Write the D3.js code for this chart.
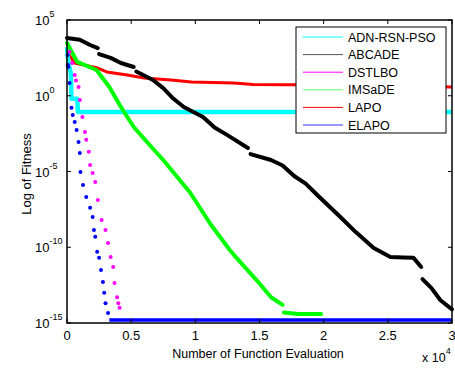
<!DOCTYPE html>
<html>
<head>
<meta charset="utf-8">
<script src="https://cdn.jsdelivr.net/npm/d3@7"></script>
<style>
  body { margin: 0; background: #fff; }
  text { font-family: "Liberation Sans", Arial, sans-serif; }
</style>
</head>
<body>
<script>
// x values in units of 1e4 evaluations, y values are log10(fitness)
const seriesNames = ['ADN-RSN-PSO', 'ABCADE', 'DSTLBO', 'IMSaDE', 'LAPO', 'ELAPO'];
const seriesColors = ['#00ffff', '#000000', '#ff00ff', '#00ff00', '#ff0000', '#0000ff'];
const legendColors = ['#00ffff', '#555555', '#ff00ff', '#66ff66', '#ff0000', '#3333ff'];

const adnX = [0, 0.01, 0.03, 0.035, 0.04, 0.08, 0.085, 3.0];
const adnY = [3.2, 2.2, 1.5, -0.2, -0.2, -0.2, -1.07, -1.07];

// null marks a break in the plotted markers
const abcX = [0, 0.1, 0.18, 0.24, null, 0.25, 0.34, 0.42, 0.52, null, 0.54, 0.67, 0.75, 0.83, 0.91, 1.06, 1.15, 1.25, 1.41, null, 1.43, 1.59, 1.68, 1.77, 1.86, 1.95, 2.13, 2.25, 2.39, 2.52, 2.62, 2.7, 2.76, null, 2.77, 2.84, 2.91, 3.0];
const abcY = [3.81, 3.7, 3.35, 3.15, null, 2.75, 2.5, 2.16, 1.9, null, 1.6, 1.04, 0.5, -0.2, -0.74, -1.4, -2.1, -2.6, -3.45, null, -3.85, -4.24, -4.6, -5.3, -5.8, -6.55, -8.0, -9.0, -10.05, -10.64, -10.68, -10.7, -11.3, null, -12.1, -12.7, -13.5, -14.1];

const dstX = [0.02, 0.04, 0.06, 0.07, 0.09, 0.1, 0.12, 0.14, 0.15, 0.17, 0.18, 0.2, 0.22, 0.24, 0.27, 0.3, 0.32, 0.34, 0.36, 0.37, 0.39, 0.4, 0.41];
const dstY = [2.9, 2.16, 1.37, 1.0, 0.58, -0.28, -1.4, -2.39, -2.9, -3.7, -4.57, -5.1, -5.7, -6.88, -8.2, -8.86, -9.72, -10.64, -11.3, -12.36, -13.3, -13.7, -14.0];

const imsX = [0, 0.08, 0.23, 0.33, 0.42, 0.52, 0.67, 0.75, 0.96, 1.12, 1.27, 1.3, 1.48, 1.59, 1.68, null, 1.69, 1.8, 1.98];
const imsY = [3.48, 2.23, 1.7, 0.58, -0.74, -2.06, -3.5, -4.24, -6.4, -8.5, -10.2, -10.5, -12.2, -13.3, -13.8, null, -14.3, -14.4, -14.4];

const lapoX = [0, 0.06, 0.23, 0.31, 0.47, 0.6, 0.81, 0.97, 1.3, 1.45, 2.0, 2.5, 3.0];
const lapoY = [2.9, 2.16, 1.85, 1.57, 1.37, 1.17, 1.04, 0.9, 0.84, 0.75, 0.71, 0.65, 0.58];

const elapoX = [0.005, 0.007, 0.01, 0.02, 0.035, 0.045, 0.06, 0.075, 0.09, 0.1, 0.105, 0.125, 0.15, 0.18, 0.2, 0.21, 0.22, 0.235, 0.25, 0.265, 0.28, 0.29, 0.3, 0.32];
const elapoY = [2.69, 2.03, 1.9, 0.84, -0.8, -1.27, -1.73, -2.26, -3.05, -3.78, -5.03, -5.89, -6.68, -7.4, -8.0, -8.86, -9.3, -10.3, -10.7, -11.5, -12.3, -13.0, -13.7, -14.34];
const elapoFlatX = [0.33, 3.0];
const elapoFlatY = [-14.8, -14.8];

const xTicks = [0, 0.5, 1, 1.5, 2, 2.5, 3];
const xTickLabels = ['0', '0.5', '1', '1.5', '2', '2.5', '3'];
const yTicks = [5, 0, -5, -10, -15];
const yTickExps = ['5', '0', '-5', '-10', '-15'];

const W = 455, H = 372;
const pLeft = 67, pRight = 452, pTop = 20, pBottom = 323;

const svg = d3.select('body').append('svg')
    .attr('width', W).attr('height', H);

const x = d3.scaleLinear().domain([0, 3]).range([pLeft, pRight]);
const y = d3.scaleLinear().domain([-15, 5]).range([pBottom, pTop]);

function pts(xs, ys) {
    return xs.map((v, i) => [v, ys[i]]);
}

const line = d3.line()
    .defined(d => d[0] !== null)
    .x(d => x(d[0])).y(d => y(d[1]));

const plot = svg.append('g');

// LAPO
plot.append('path').datum(pts(lapoX, lapoY))
    .attr('d', line).attr('fill', 'none')
    .attr('stroke', seriesColors[4]).attr('stroke-width', 3)
    .attr('stroke-linejoin', 'round');

// ADN-RSN-PSO
plot.append('path').datum(pts(adnX, adnY))
    .attr('d', line).attr('fill', 'none')
    .attr('stroke', seriesColors[0]).attr('stroke-width', 4.5)
    .attr('stroke-linejoin', 'round');

// IMSaDE
plot.append('path').datum(pts(imsX, imsY))
    .attr('d', line).attr('fill', 'none')
    .attr('stroke', seriesColors[3]).attr('stroke-width', 4)
    .attr('stroke-linecap', 'round').attr('stroke-linejoin', 'round');

// ABCADE
plot.append('path').datum(pts(abcX, abcY))
    .attr('d', line).attr('fill', 'none')
    .attr('stroke', seriesColors[1]).attr('stroke-width', 4)
    .attr('stroke-linecap', 'round').attr('stroke-linejoin', 'round');

// DSTLBO dots
plot.selectAll('.dst').data(pts(dstX, dstY)).enter()
    .append('circle').attr('class', 'dst')
    .attr('cx', d => x(d[0])).attr('cy', d => y(d[1]))
    .attr('r', 2).attr('fill', seriesColors[2]);

// ELAPO dots + flat tail
plot.selectAll('.ela').data(pts(elapoX, elapoY)).enter()
    .append('circle').attr('class', 'ela')
    .attr('cx', d => x(d[0])).attr('cy', d => y(d[1]))
    .attr('r', 2).attr('fill', seriesColors[5]);
plot.append('path').datum(pts(elapoFlatX, elapoFlatY))
    .attr('d', line).attr('fill', 'none')
    .attr('stroke', seriesColors[5]).attr('stroke-width', 3.5);

// axes box with inward ticks on all sides
const ax = svg.append('g').attr('stroke', '#000').attr('stroke-width', 1);
ax.append('rect').attr('x', pLeft).attr('y', pTop)
    .attr('width', pRight - pLeft).attr('height', pBottom - pTop)
    .attr('fill', 'none').attr('stroke-width', 1.5);

xTicks.forEach(t => {
    ax.append('line').attr('x1', x(t)).attr('x2', x(t)).attr('y1', pBottom).attr('y2', pBottom - 4);
    ax.append('line').attr('x1', x(t)).attr('x2', x(t)).attr('y1', pTop).attr('y2', pTop + 4);
});
yTicks.forEach(t => {
    ax.append('line').attr('x1', pLeft).attr('x2', pLeft + 4).attr('y1', y(t)).attr('y2', y(t));
    ax.append('line').attr('x1', pRight).attr('x2', pRight - 4).attr('y1', y(t)).attr('y2', y(t));
});

// tick labels
svg.selectAll('.xt').data(xTicks).enter()
    .append('text').attr('class', 'xt')
    .attr('x', d => x(d)).attr('y', pBottom + 17)
    .attr('text-anchor', 'middle').attr('font-size', 13)
    .text((d, i) => xTickLabels[i]);

yTicks.forEach((t, i) => {
    const tx = svg.append('text')
        .attr('x', 35).attr('y', y(t) + 5)
        .attr('font-size', 13);
    tx.append('tspan').text('10');
    tx.append('tspan').attr('dy', -8).attr('font-size', 9).text(yTickExps[i]);
});

// axis titles
svg.append('text')
    .attr('x', 258).attr('y', 358)
    .attr('text-anchor', 'middle').attr('font-size', 12.5)
    .text('Number of Function Evaluation');

svg.append('text')
    .attr('transform', 'translate(31, 174) rotate(-90)')
    .attr('text-anchor', 'middle').attr('font-size', 13)
    .text('Log of Fitness');

const mult = svg.append('text')
    .attr('x', 422).attr('y', 362).attr('font-size', 12.5);
mult.append('tspan').text('x 10');
mult.append('tspan').attr('dy', -8).attr('font-size', 9).text('4');

// legend
const lg = svg.append('g');
lg.append('rect').attr('x', 296).attr('y', 27)
    .attr('width', 150).attr('height', 106)
    .attr('fill', '#fff').attr('stroke', '#000').attr('stroke-width', 1);

const rowY = d3.scalePoint().domain(seriesNames).range([37, 125]);

seriesNames.forEach((name, i) => {
    lg.append('line')
        .attr('x1', 303).attr('x2', 343)
        .attr('y1', rowY(name)).attr('y2', rowY(name))
        .attr('stroke', legendColors[i]).attr('stroke-width', 1);
    lg.append('text')
        .attr('x', 348).attr('y', rowY(name) + 4.5)
        .attr('font-size', 12.5)
        .text(name);
});
</script>
</body>
</html>
